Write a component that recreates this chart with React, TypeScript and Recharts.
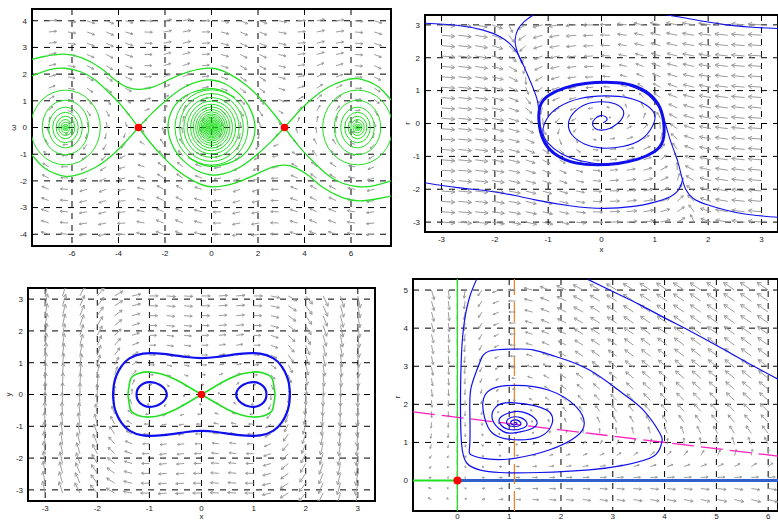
import React from 'react';
import {
  ScatterChart,
  Scatter,
  XAxis,
  YAxis,
  CartesianGrid,
  ReferenceArea,
  ReferenceLine,
} from 'recharts';

type P = [number, number];
const FONT = '"Liberation Sans", Arial, Helvetica, sans-serif';

// ================= Panel 1 : damped pendulum (theta, omega) =================
const p1XTicks = [-6, -4, -2, 0, 2, 4, 6];
const p1YTicks = [-4, -3, -2, -1, 0, 1, 2, 3, 4];
const p1FieldX = [-7, -6.176, -5.353, -4.529, -3.706, -2.882, -2.059, -1.235, -0.412, 0.412, 1.235, 2.059, 2.882, 3.706, 4.529, 5.353, 6.176, 7];
const p1FieldY = [-4, -3.579, -3.158, -2.737, -2.316, -1.895, -1.474, -1.053, -0.632, -0.211, 0.211, 0.632, 1.053, 1.474, 1.895, 2.316, 2.737, 3.158, 3.579, 4];
const p1Damping = 0.1;
const p1Top1: P[] = [[-7.72, 2.55], [-7.2, 2.66], [-6.37, 2.75], [-5.6, 2.62], [-4.8, 2.25], [-4.2, 1.82], [-3.6, 1.5], [-3.08, 1.43], [-2.5, 1.52], [-1.8, 1.8], [-1.0, 2.08], [0, 2.22], [0.8, 1.99], [1.5, 1.58], [2.1, 1.09], [2.6, 0.6], [3.14, 0]];
const p1Top2: P[] = [[-7.72, 1.93], [-7.0, 2.16], [-6.33, 2.22], [-5.6, 2.08], [-5.0, 1.78], [-4.4, 1.3], [-3.9, 0.85], [-3.5, 0.42], [-3.14, 0]];
const p1Bot1: P[] = [[7.72, -2.57], [7.2, -2.66], [6.37, -2.75], [5.6, -2.62], [4.8, -2.25], [4.2, -1.82], [3.6, -1.5], [3.08, -1.41], [2.5, -1.52], [1.8, -1.8], [1.0, -2.08], [0, -2.22], [-0.8, -1.99], [-1.5, -1.58], [-2.1, -1.09], [-2.6, -0.6], [-3.14, 0]];
const p1Bot2: P[] = [[7.72, -2.0], [7.0, -2.18], [6.33, -2.22], [5.6, -2.08], [5.0, -1.78], [4.4, -1.3], [3.9, -0.85], [3.5, -0.42], [3.14, 0]];
const p1Out1: P[] = [[-3.14, 0], [-2.6, 0.5], [-2.0, 0.98], [-1.2, 1.5], [-0.5, 1.74], [0, 1.78], [0.6, 1.63], [1.2, 1.25], [1.6, 0.81], [1.87, 0.05], [1.65, -0.72], [1.1, -1.2], [0.4, -1.42], [-0.3, -1.42], [-1.0, -1.12]];
const p1Out2: P[] = [[3.14, 0], [2.6, -0.5], [2.0, -0.98], [1.2, -1.5], [0.5, -1.74], [0, -1.78], [-0.6, -1.63], [-1.2, -1.25], [-1.6, -0.81], [-1.87, -0.05], [-1.65, 0.72], [-1.1, 1.2], [-0.4, 1.42], [0.3, 1.42], [1.0, 1.12]];
const p1Out3: P[] = [[-3.14, 0], [-3.6, -0.45], [-4.2, -0.98], [-5.0, -1.5], [-5.7, -1.76], [-6.28, -1.83], [-7.0, -1.62], [-7.4, -1.35], [-7.72, -1.03]];
const p1Out4: P[] = [[3.14, 0], [3.6, 0.45], [4.2, 0.98], [5.0, 1.5], [5.7, 1.76], [6.28, 1.83], [7.0, 1.62], [7.4, 1.35], [7.72, 1.03]];
const p1Saddles: P[] = [[-3.14, 0], [3.14, 0]];
const p1CentreRx = [1.57, 1.37, 1.19, 1.04, 0.9, 0.79, 0.68, 0.6, 0.52, 0.45, 0.39, 0.34, 0.29, 0.25, 0.21, 0.17, 0.13, 0.1, 0.07, 0.04];
const p1CentreRy = [1.41, 1.27, 1.12, 0.99, 0.87, 0.77, 0.67, 0.59, 0.51, 0.45, 0.39, 0.34, 0.29, 0.25, 0.21, 0.17, 0.13, 0.1, 0.07, 0.04];
const p1SideRx = [1.5, 1.0, 0.72, 0.55, 0.4, 0.29, 0.19, 0.12, 0.07, 0.04];
const p1SideRy = [1.4, 1.02, 0.76, 0.57, 0.42, 0.3, 0.2, 0.12, 0.07, 0.04];

// ================= Panel 2 : Lienard system (x, r) =================
const p2XTicks = [-3, -2, -1, 0, 1, 2, 3];
const p2YTicks = [-3, -2, -1, 0, 1, 2, 3];
const p2FieldX = [-3, -2.684, -2.368, -2.053, -1.737, -1.421, -1.105, -0.789, -0.474, -0.158, 0.158, 0.474, 0.789, 1.105, 1.421, 1.737, 2.053, 2.368, 2.684, 3];
const p2FieldY = [-3, -2.684, -2.368, -2.053, -1.737, -1.421, -1.105, -0.789, -0.474, -0.158, 0.158, 0.474, 0.789, 1.105, 1.421, 1.737, 2.053, 2.368, 2.684, 3];
const p2TopLeft: P[] = [[-3.31, 3.05], [-2.72, 2.99], [-2.22, 2.84], [-1.9, 2.64], [-1.72, 2.43], [-1.6, 2.2], [-1.5, 1.9], [-1.4, 1.53], [-1.3, 1.15], [-1.22, 0.8], [-1.18, 0.45], [-1.18, 0.05], [-1.1, -0.5], [-0.9, -0.9], [-0.5, -1.2], [0.06, -1.27]];
const p2TopEdge: P[] = [[-1.28, 3.3], [-1.45, 3.1], [-1.57, 2.85], [-1.62, 2.55], [-1.6, 2.3], [-1.55, 2.05], [-1.48, 1.8]];
const p2BottomRight: P[] = [[3.31, -2.85], [2.6, -2.73], [2.0, -2.48], [1.72, -2.28], [1.58, -2.0], [1.5, -1.6], [1.42, -1.1], [1.32, -0.65], [1.25, -0.3], [1.18, 0.1], [1.1, 0.45], [0.97, 0.71], [0.8, 0.95], [0.4, 1.2], [0.0, 1.27]];
const p2BottomLeft: P[] = [[-3.31, -1.8], [-2.7, -1.95], [-2.09, -2.06], [-1.6, -2.2], [-1.22, -2.33], [-0.6, -2.5], [0.06, -2.58], [0.6, -2.52], [0.91, -2.43], [1.29, -2.23], [1.47, -1.95], [1.53, -1.65]];
const p2TopRight: P[] = [[1.22, 3.3], [1.6, 3.2], [2.35, 3.0], [2.9, 2.92], [3.31, 2.89]];
const p2Cycle: P[] = [[-1.18, 0.6], [-1.0, 0.88], [-0.7, 1.1], [-0.3, 1.23], [0.06, 1.27], [0.5, 1.23], [0.85, 1.0], [1.08, 0.62], [1.18, 0.1], [1.18, -0.6], [1.0, -0.88], [0.7, -1.1], [0.3, -1.23], [-0.06, -1.27], [-0.5, -1.23], [-0.85, -1.0], [-1.08, -0.62], [-1.18, -0.1]];
const p2Spiral: P[] = [[0.03, 0.02], [0.1, 0.1], [0.08, 0.2], [-0.02, 0.24], [-0.12, 0.15], [-0.17, 0.0], [-0.12, -0.15], [0.0, -0.2], [0.15, -0.15], [0.3, 0.0], [0.4, 0.2], [0.4, 0.42], [0.25, 0.6], [0.0, 0.66], [-0.3, 0.58], [-0.52, 0.33], [-0.62, 0.0], [-0.55, -0.35], [-0.32, -0.62], [0.0, -0.75], [0.4, -0.7], [0.75, -0.48], [0.95, -0.1], [1.0, 0.25], [0.85, 0.55], [0.5, 0.78], [0.06, 0.84], [-0.4, 0.76], [-0.8, 0.5], [-1.02, 0.15], [-1.1, -0.25], [-1.0, -0.6], [-0.75, -0.92], [-0.35, -1.15], [0.06, -1.25]];

// ================= Panel 3 : double well (x, y) =================
const p3XTicks = [-3, -2, -1, 0, 1, 2, 3];
const p3YTicks = [-3, -2, -1, 0, 1, 2, 3];
const p3FieldX = [-3, -2.667, -2.333, -2, -1.667, -1.333, -1, -0.667, -0.333, 0, 0.333, 0.667, 1, 1.333, 1.667, 2, 2.333, 2.667, 3];
const p3FieldY = [-3.1, -2.79, -2.48, -2.17, -1.86, -1.55, -1.24, -0.93, -0.62, -0.31, 0, 0.31, 0.62, 0.93, 1.24, 1.55, 1.86, 2.17, 2.48, 2.79, 3.1];
const p3Eight: P[] = [[0, 0], [0.25, 0.245], [0.5, 0.47], [0.75, 0.635], [1.0, 0.71], [1.2, 0.665], [1.35, 0.52], [1.39, 0.26], [1.41, 0], [1.39, -0.26], [1.35, -0.52], [1.2, -0.665], [1.0, -0.71], [0.75, -0.635], [0.5, -0.47], [0.25, -0.245], [0, 0], [-0.25, 0.245], [-0.5, 0.47], [-0.75, 0.635], [-1.0, 0.71], [-1.2, 0.665], [-1.35, 0.52], [-1.39, 0.26], [-1.41, 0], [-1.39, -0.26], [-1.35, -0.52], [-1.2, -0.665], [-1.0, -0.71], [-0.75, -0.635], [-0.5, -0.47], [-0.25, -0.245], [0, 0]];
const p3InnerRight: P[] = [[0.66, 0], [0.68, 0.12], [0.72, 0.21], [0.8, 0.31], [0.9, 0.377], [1.0, 0.4], [1.1, 0.37], [1.2, 0.25], [1.24, 0.13], [1.25, 0], [1.24, -0.13], [1.2, -0.25], [1.1, -0.37], [1.0, -0.4], [0.9, -0.377], [0.8, -0.31], [0.72, -0.21], [0.68, -0.12]];
const p3InnerLeft: P[] = [[-0.66, 0], [-0.68, 0.12], [-0.72, 0.21], [-0.8, 0.31], [-0.9, 0.377], [-1.0, 0.4], [-1.1, 0.37], [-1.2, 0.25], [-1.24, 0.13], [-1.25, 0], [-1.24, -0.13], [-1.2, -0.25], [-1.1, -0.37], [-1.0, -0.4], [-0.9, -0.377], [-0.8, -0.31], [-0.72, -0.21], [-0.68, -0.12]];
const p3Outer: P[] = [[-1.7, 0], [-1.69, 0.2], [-1.68, 0.35], [-1.65, 0.55], [-1.55, 0.895], [-1.4, 1.15], [-1.15, 1.317], [-0.75, 1.3], [-0.25, 1.16], [0, 1.134], [0.25, 1.16], [0.75, 1.3], [1.15, 1.317], [1.4, 1.15], [1.55, 0.895], [1.65, 0.55], [1.68, 0.35], [1.69, 0.2], [1.7, 0], [1.69, -0.2], [1.68, -0.35], [1.65, -0.55], [1.55, -0.895], [1.4, -1.15], [1.15, -1.317], [0.75, -1.3], [0.25, -1.16], [0, -1.134], [-0.25, -1.16], [-0.75, -1.3], [-1.15, -1.317], [-1.4, -1.15], [-1.55, -0.895], [-1.65, -0.55], [-1.68, -0.35], [-1.69, -0.2]];
const p3Saddle: P[] = [[0, 0]];

// ================= Panel 4 : predator-prey (x, r) =================
const p4XTicks = [0, 1, 2, 3, 4, 5, 6];
const p4YTicks = [0, 1, 2, 3, 4, 5];
const p4FieldX = [-0.5, -0.175, 0.15, 0.475, 0.8, 1.125, 1.45, 1.775, 2.1, 2.425, 2.75, 3.075, 3.4, 3.725, 4.05, 4.375, 4.7, 5.025, 5.35, 5.675, 6.0];
const p4FieldY = [-0.5, -0.211, 0.079, 0.368, 0.658, 0.947, 1.237, 1.526, 1.816, 2.105, 2.395, 2.684, 2.974, 3.263, 3.553, 3.842, 4.132, 4.421, 4.711, 5.0];
const p4Spiral: P[] = [[0.37, 5.28], [0.24, 4.83], [0.14, 4.22], [0.08, 3.34], [0.06, 2.03], [0.08, 0.97], [0.18, 0.46], [0.43, 0.28], [0.82, 0.21], [1.59, 0.21], [2.55, 0.28], [3.2, 0.4], [3.78, 0.63], [3.94, 0.97], [3.91, 1.24], [3.59, 1.85], [3.2, 2.28], [2.55, 2.9], [1.91, 3.25], [1.46, 3.43], [1.1, 3.45], [0.62, 3.4], [0.43, 3.09], [0.27, 2.47], [0.24, 1.86], [0.24, 0.97], [0.27, 0.67], [0.62, 0.56], [1.1, 0.58], [1.77, 0.8], [2.29, 1.15], [2.45, 1.5], [2.29, 1.94], [1.77, 2.37], [1.1, 2.5], [0.62, 2.37], [0.49, 2.03], [0.52, 1.68], [0.68, 1.24], [1.1, 1.07], [1.59, 1.15], [1.82, 1.46], [1.72, 1.85], [1.1, 2.04], [0.75, 1.94], [0.68, 1.59], [0.88, 1.29], [1.1, 1.25], [1.46, 1.38], [1.52, 1.59], [1.33, 1.77], [1.1, 1.81], [0.85, 1.68], [0.82, 1.5], [1.0, 1.34], [1.27, 1.38], [1.34, 1.52], [1.22, 1.65], [1.05, 1.66], [0.95, 1.55], [1.02, 1.43], [1.18, 1.43], [1.22, 1.52], [1.12, 1.59], [1.03, 1.53], [1.08, 1.46], [1.15, 1.49], [1.11, 1.53], [1.1, 1.5]];
const p4Upper: P[] = [[2.52, 5.28], [3.0, 4.96], [3.5, 4.63], [4.0, 4.27], [4.5, 3.92], [5.13, 3.45], [5.6, 3.09], [6.19, 2.66]];
const p4PreyNullcline: P[] = [[-0.857, 1.8], [6.19, 0.64]];
const p4PredatorNullclineX = 1.1;
const p4Origin: P[] = [[0, 0]];

// ================= layout helpers =================
type Frame = { x0: number; y0: number; x1: number; y1: number };
const MT = 3;
const MR = 3;
const XH = 20;

const noShape = () => <g />;
const toXY = (pts: P[]) => pts.map(([x, y]) => ({ x, y }));

function curve(key: string, pts: P[], stroke: string, width: number, type: any = 'natural', dash?: string) {
  return (
    <Scatter
      key={key}
      data={toXY(pts)}
      fill={stroke}
      line={{ stroke, strokeWidth: width, strokeDasharray: dash, fill: 'none' }}
      lineType="joint"
      lineJointType={type}
      shape={noShape}
      isAnimationActive={false}
    />
  );
}

function dots(key: string, pts: P[], r: number) {
  return (
    <Scatter
      key={key}
      data={toXY(pts)}
      fill="#ff0000"
      isAnimationActive={false}
      shape={(p: any) => <circle cx={p.cx} cy={p.cy} r={r} fill="#ff0000" />}
    />
  );
}

function rings(key: string, cx: number, rx: number[], ry: number[], sx: number, sy: number, color: string, w: number) {
  const data = rx.map((r, i) => ({ x: cx, y: 0, rx: r, ry: ry[i] }));
  return (
    <Scatter
      key={key}
      data={data}
      isAnimationActive={false}
      shape={(p: any) => (
        <ellipse cx={p.cx} cy={p.cy} rx={p.payload.rx * sx} ry={p.payload.ry * sy} fill="none" stroke={color} strokeWidth={w} />
      )}
    />
  );
}

function field(
  key: string,
  gx: number[],
  gy: number[],
  f: (x: number, y: number) => [number, number],
  sx: number,
  sy: number,
  L: number,
  c: number
) {
  const data: any[] = [];
  for (const x of gx) {
    for (const y of gy) {
      const [u, v] = f(x, y);
      const m = Math.hypot(u, v);
      if (m < 1e-9) continue;
      const px = u * sx;
      const py = -v * sy;
      const pm = Math.hypot(px, py);
      const len = (L * m) / (m + c);
      data.push({ x, y, dx: (px / pm) * len, dy: (py / pm) * len });
    }
  }
  return (
    <Scatter
      key={key}
      data={data}
      isAnimationActive={false}
      shape={(p: any) => {
        const { cx, cy, payload } = p;
        const dx = payload.dx;
        const dy = payload.dy;
        const len = Math.hypot(dx, dy);
        const hx = cx + dx;
        const hy = cy + dy;
        const ux = dx / len;
        const uy = dy / len;
        const h = Math.max(1.8, 0.33 * len);
        const a = 0.5;
        const ca = Math.cos(a);
        const sa = Math.sin(a);
        const l1x = hx - h * (ux * ca - uy * sa);
        const l1y = hy - h * (uy * ca + ux * sa);
        const l2x = hx - h * (ux * ca + uy * sa);
        const l2y = hy - h * (uy * ca - ux * sa);
        return (
          <path
            d={`M${cx},${cy}L${hx},${hy}M${l1x},${l1y}L${hx},${hy}L${l2x},${l2y}`}
            stroke="#9c9c9c"
            strokeWidth={1}
            fill="none"
          />
        );
      }}
    />
  );
}

type LabelSpec = { x: number; y: number; text: string; rotate: boolean };

function Panel(props: {
  frame: Frame;
  yw: number;
  xDomain: [number, number];
  yDomain: [number, number];
  xTicks: number[];
  yTicks: number[];
  xTickMargin: number;
  labels: LabelSpec[];
  children: React.ReactNode;
}) {
  const { frame, yw, xDomain, yDomain, xTicks, yTicks, xTickMargin, labels, children } = props;
  const left = frame.x0 - yw;
  const top = frame.y0 - MT;
  const width = yw + (frame.x1 - frame.x0) + MR;
  const height = MT + (frame.y1 - frame.y0) + XH;
  const tick = { fontSize: 8, fill: '#222', fontFamily: FONT };
  const labelFn = () => (
    <g>
      {labels.map((l, i) => {
        const x = l.x - left;
        const y = l.y - top;
        return (
          <text
            key={i}
            x={x}
            y={y}
            textAnchor="middle"
            dominantBaseline="central"
            fontSize={8}
            fontFamily={FONT}
            fill="#222"
            transform={l.rotate ? `rotate(-90 ${x} ${y})` : undefined}
          >
            {l.text}
          </text>
        );
      })}
    </g>
  );
  return (
    <div style={{ position: 'absolute', left, top }}>
      <ScatterChart width={width} height={height} margin={{ top: MT, right: MR, bottom: 0, left: 0 }}>
        <CartesianGrid stroke="#000" strokeDasharray="6 6" strokeWidth={1} />
        <XAxis
          type="number"
          dataKey="x"
          domain={xDomain}
          ticks={xTicks}
          allowDataOverflow
          interval={0}
          axisLine={false}
          tickLine={false}
          tickSize={0}
          tickMargin={xTickMargin}
          height={XH}
          tick={tick}
          label={labelFn}
        />
        <YAxis
          type="number"
          dataKey="y"
          domain={yDomain}
          ticks={yTicks}
          allowDataOverflow
          interval={0}
          axisLine={false}
          tickLine={false}
          tickSize={0}
          tickMargin={5}
          width={yw}
          tick={tick}
        />
        {children}
        <ReferenceArea
          x1={xDomain[0]}
          x2={xDomain[1]}
          y1={yDomain[0]}
          y2={yDomain[1]}
          fill="none"
          fillOpacity={0}
          stroke="#000"
          strokeWidth={2}
          ifOverflow="visible"
        />
      </ScatterChart>
    </div>
  );
}

// ================= panels =================
const f1: Frame = { x0: 32, y0: 9, x1: 391, y1: 246 };
const d1x: [number, number] = [-7.72, 7.72];
const d1y: [number, number] = [-4.44, 4.44];
const f2: Frame = { x0: 425, y0: 15, x1: 778, y1: 232 };
const d2x: [number, number] = [-3.31, 3.31];
const d2y: [number, number] = [-3.3, 3.3];
const f3: Frame = { x0: 28, y0: 288, x1: 375, y1: 501 };
const d3x: [number, number] = [-3.33, 3.33];
const d3y: [number, number] = [-3.35, 3.35];
const f4: Frame = { x0: 413, y0: 279, x1: 778, y1: 511 };
const d4x: [number, number] = [-0.857, 6.19];
const d4y: [number, number] = [-0.8, 5.29];

const scaleX = (f: Frame, d: [number, number]) => (f.x1 - f.x0) / (d[1] - d[0]);
const scaleY = (f: Frame, d: [number, number]) => (f.y1 - f.y0) / (d[1] - d[0]);

export default function App() {
  const s1x = scaleX(f1, d1x);
  const s1y = scaleY(f1, d1y);
  const s2x = scaleX(f2, d2x);
  const s2y = scaleY(f2, d2y);
  const s3x = scaleX(f3, d3x);
  const s3y = scaleY(f3, d3y);
  const s4x = scaleX(f4, d4x);
  const s4y = scaleY(f4, d4y);
  const G = '#22e022';
  const B = '#1010ee';

  return (
    <div style={{ position: 'absolute', left: 0, top: 0, width: 778, height: 520, overflow: 'hidden', background: '#fff' }}>
      <Panel frame={f1} yw={32} xDomain={d1x} yDomain={d1y} xTicks={p1XTicks} yTicks={p1YTicks} xTickMargin={4} labels={[{ x: 13, y: 127.5, text: 'ω', rotate: true }]}>
        {[
          field('f1', p1FieldX, p1FieldY, (x, y) => [y, -Math.sin(x) - p1Damping * y], s1x, s1y, 9, 0.5),
          rings('r1a', -6.28, p1SideRx, p1SideRy, s1x, s1y, G, 1),
          rings('r1b', 0, p1CentreRx, p1CentreRy, s1x, s1y, G, 1),
          rings('r1c', 6.28, p1SideRx, p1SideRy, s1x, s1y, G, 1),
          curve('t1', p1Top1, G, 1.3),
          curve('t2', p1Top2, G, 1.3),
          curve('b1', p1Bot1, G, 1.3),
          curve('b2', p1Bot2, G, 1.3),
          curve('o1', p1Out1, G, 1.3),
          curve('o2', p1Out2, G, 1.3),
          curve('o3', p1Out3, G, 1.3),
          curve('o4', p1Out4, G, 1.3),
          dots('d1', p1Saddles, 3.8),
        ]}
      </Panel>
      <Panel
        frame={f2}
        yw={30}
        xDomain={d2x}
        yDomain={d2y}
        xTicks={p2XTicks}
        yTicks={p2YTicks}
        xTickMargin={4}
        labels={[
          { x: 407, y: 123.5, text: 'r', rotate: true },
          { x: 601.5, y: 249, text: 'x', rotate: false },
        ]}
      >
        {[
          field('f2', p2FieldX, p2FieldY, (x, y) => [-(y + x * x * x - x), x], s2x, s2y, 14, 1.2),
          curve('c1', p2TopLeft, B, 1.1),
          curve('c2', p2TopEdge, B, 1.1),
          curve('c3', p2BottomRight, B, 1.1),
          curve('c4', p2BottomLeft, B, 1.1),
          curve('c5', p2TopRight, B, 1.1),
          curve('c6', p2Spiral, B, 1.1),
          curve('c7', p2Cycle, B, 3, 'basisClosed'),
        ]}
      </Panel>
      <Panel
        frame={f3}
        yw={28}
        xDomain={d3x}
        yDomain={d3y}
        xTicks={p3XTicks}
        yTicks={p3YTicks}
        xTickMargin={4}
        labels={[
          { x: 8, y: 394.5, text: 'y', rotate: true },
          { x: 201.5, y: 516, text: 'x', rotate: false },
        ]}
      >
        {[
          field('f3', p3FieldX, p3FieldY, (x, y) => [y, x - x * x * x], s3x, s3y, 13, 1.5),
          curve('e1', p3Outer, B, 2.2, 'basisClosed'),
          curve('e2', p3InnerRight, B, 2.2, 'basisClosed'),
          curve('e3', p3InnerLeft, B, 2.2, 'basisClosed'),
          curve('e4', p3Eight, G, 1.6),
          dots('d3', p3Saddle, 3.8),
        ]}
      </Panel>
      <Panel
        frame={f4}
        yw={30}
        xDomain={d4x}
        yDomain={d4y}
        xTicks={p4XTicks}
        yTicks={p4YTicks}
        xTickMargin={2}
        labels={[{ x: 397, y: 397, text: 'r', rotate: true }]}
      >
        {[
          field('f4', p4FieldX, p4FieldY, (x, y) => [x * (1.66 - 0.165 * x - y), y * (x - 1.1)], s4x, s4y, 15, 4),
          <ReferenceLine key="g1" x={0} stroke="#22e022" strokeWidth={1.3} />,
          <ReferenceLine key="g2" segment={[{ x: d4x[0], y: 0 }, { x: 0, y: 0 }]} stroke="#22e022" strokeWidth={2} />,
          <ReferenceLine key="bl" segment={[{ x: 0, y: 0 }, { x: d4x[1], y: 0 }]} stroke="#3060c8" strokeWidth={3} />,
          <ReferenceLine key="or" x={p4PredatorNullclineX} stroke="#f08020" strokeWidth={1.2} strokeDasharray="20 7" />,
          curve('m1', p4PreyNullcline, '#ff20c0', 1.3, 'linear', '22 7'),
          curve('s1', p4Spiral, B, 1.2),
          curve('s2', p4Upper, B, 1.2),
          dots('d4', p4Origin, 4),
        ]}
      </Panel>
    </div>
  );
}
